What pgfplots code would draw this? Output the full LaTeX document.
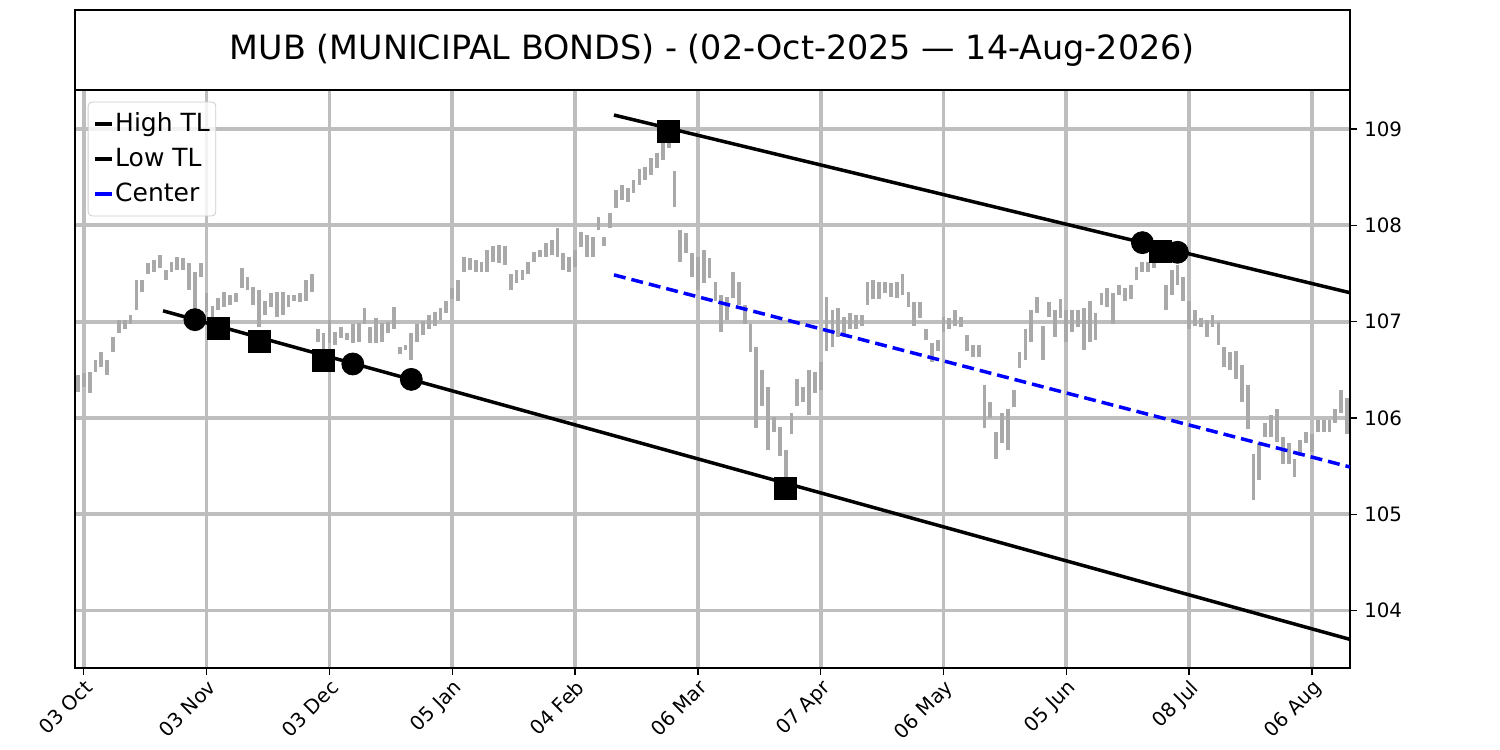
\documentclass[border=0pt]{standalone}
\usepackage{fontspec}
\setmainfont{DejaVu Sans}
\usepackage{pgfplots}
\pgfplotsset{compat=1.18}
\usepackage{pgfplotstable}
\definecolor{barc}{HTML}{A9A9A9}
\definecolor{gridc}{HTML}{BEBEBE}
\definecolor{legc}{HTML}{CCCCCC}

\pgfplotstableread{
i lo hi
0 106.27 106.45
1 106.32 106.47
2 106.26 106.48
3 106.48 106.60
4 106.53 106.68
5 106.45 106.60
6 106.68 106.84
7 106.88 107.02
8 106.92 107.02
9 106.97 107.07
10 107.12 107.43
11 107.31 107.43
12 107.49 107.61
13 107.52 107.64
14 107.56 107.69
15 107.43 107.54
16 107.52 107.62
17 107.54 107.67
18 107.54 107.66
19 107.33 107.61
20 107.04 107.51
21 107.46 107.61
22 107.10 107.30
23 107.05 107.16
24 107.12 107.25
25 107.15 107.31
26 107.17 107.28
27 107.20 107.30
28 107.35 107.56
29 107.33 107.46
30 107.17 107.36
31 106.94 107.33
32 107.07 107.21
33 107.15 107.30
34 107.05 107.31
35 107.07 107.31
36 107.15 107.28
37 107.21 107.28
38 107.20 107.30
39 107.21 107.43
40 107.31 107.49
41 106.79 106.92
42 106.71 106.88
43 106.78 107.02
44 106.76 106.89
45 106.83 106.94
46 106.81 106.88
47 106.78 106.97
48 106.79 106.99
49 106.97 107.14
50 106.78 106.94
51 106.78 107.04
52 106.79 106.99
53 106.88 107.00
54 106.92 107.15
55 106.66 106.74
56 106.71 106.76
57 106.60 106.88
58 106.79 106.97
59 106.86 107.01
60 106.92 107.07
61 106.95 107.10
62 107.02 107.14
63 107.09 107.21
64 107.23 107.35
65 107.21 107.43
66 107.51 107.67
67 107.54 107.66
68 107.52 107.64
69 107.51 107.62
70 107.51 107.74
71 107.62 107.78
72 107.61 107.80
73 107.59 107.78
74 107.33 107.49
75 107.40 107.54
76 107.43 107.54
77 107.49 107.62
78 107.62 107.72
79 107.67 107.74
80 107.67 107.82
81 107.69 107.85
82 107.67 107.97
83 107.54 107.71
84 107.52 107.67
85 107.57 107.74
86 107.77 107.93
87 107.67 107.90
88 107.67 107.88
89 107.95 108.09
90 107.78 107.88
91 107.97 108.13
92 108.18 108.37
93 108.26 108.42
94 108.24 108.39
95 108.34 108.47
96 108.42 108.58
97 108.47 108.61
98 108.52 108.70
99 108.60 108.75
100 108.68 108.86
101 108.80 109.01
102 108.19 108.56
103 107.62 107.95
104 107.71 107.92
105 107.46 107.71
106 107.33 107.67
107 107.40 107.74
108 107.45 107.66
109 107.21 107.41
110 106.89 107.28
111 107.02 107.26
112 107.25 107.51
113 107.17 107.41
114 106.97 107.17
115 106.68 106.97
116 105.90 106.74
117 106.12 106.50
118 105.67 106.32
119 105.85 106.01
120 105.60 105.91
121 105.31 105.67
122 105.83 106.05
123 106.12 106.40
124 106.16 106.32
125 106.03 106.50
126 106.26 106.48
127 106.29 106.58
128 106.69 107.26
129 106.74 107.12
130 106.84 107.14
131 106.84 107.05
132 106.92 107.09
133 106.92 107.07
134 106.95 107.07
135 107.17 107.41
136 107.23 107.43
137 107.23 107.41
138 107.30 107.41
139 107.26 107.40
140 107.25 107.41
141 107.28 107.49
142 107.15 107.31
143 106.95 107.20
144 107.04 107.20
145 106.81 106.92
146 106.58 106.78
147 106.69 106.81
148 106.89 107.05
149 106.92 107.04
150 106.95 107.12
151 106.94 107.05
152 106.69 106.86
153 106.63 106.76
154 106.63 106.76
155 105.90 106.34
156 106.00 106.17
157 105.57 105.85
158 105.74 106.05
159 105.67 106.09
160 106.11 106.29
161 106.52 106.68
162 106.60 106.92
163 106.79 107.12
164 107.09 107.26
165 106.60 106.95
166 107.05 107.20
167 106.84 107.12
168 107.04 107.23
169 106.79 107.12
170 106.89 107.12
171 106.94 107.12
172 106.71 107.14
173 106.79 107.21
174 106.81 107.09
175 107.17 107.30
176 107.15 107.35
177 106.97 107.30
178 107.28 107.38
179 107.21 107.35
180 107.23 107.38
181 107.43 107.57
182 107.52 107.62
183 107.51 107.62
184 107.56 107.64
185 107.61 107.69
186 107.12 107.38
187 107.28 107.54
188 107.38 107.59
189 107.21 107.46
190 106.92 107.21
191 106.95 107.12
192 106.94 107.04
193 106.84 107.02
194 106.94 107.07
195 106.76 107.00
196 106.53 106.74
197 106.50 106.68
198 106.40 106.69
199 106.17 106.55
200 105.88 106.34
201 105.15 105.62
202 105.36 105.74
203 105.80 105.95
204 105.80 106.03
205 105.75 106.09
206 105.52 105.80
207 105.52 105.74
208 105.39 105.57
209 105.60 105.77
210 105.74 105.85
211 105.65 105.83
212 105.85 105.98
213 105.85 105.98
214 105.85 105.98
215 105.95 106.09
216 106.05 106.29
217 105.83 106.21
}\bars

\begin{document}
\begin{tikzpicture}
\useasboundingbox (0,0) rectangle (750pt,375pt);
% title box
\begin{axis}[
  at={(37.5pt,330pt)}, anchor=south west,
  width=637.5pt, height=40pt, scale only axis,
  xmin=0, xmax=1, ymin=0, ymax=1,
  xtick=\empty, ytick=\empty,
  axis line style={line width=0.7pt},
]
\node[font=\fontsize{16.7}{20}\selectfont] at (axis cs:0.5,0.5) {MUB (MUNICIPAL BONDS) - (02-Oct-2025 — 14-Aug-2026)};
\end{axis}
% main chart
\begin{axis}[
  at={(37.5pt,41pt)}, anchor=south west,
  width=637.5pt, height=289pt, scale only axis,
  xmin=-0.5, xmax=217.5, ymin=103.403, ymax=109.405,
  xtick={1,22,43,64,85,106,127,148,169,190,211},
  xticklabels={03 Oct,03 Nov,03 Dec,05 Jan,04 Feb,06 Mar,07 Apr,06 May,05 Jun,08 Jul,06 Aug},
  ytick={104,105,106,107,108,109},
  xtick pos=bottom, ytick pos=right, yticklabel pos=right,
  tick align=outside, major tick length=3.6pt,
  every tick/.style={black, line width=0.7pt},
  grid=major, major grid style={gridc, line width=1.9pt},
  axis line style={line width=0.7pt},
  ticklabel style={font=\fontsize{9.9}{12}\selectfont},
  xticklabel style={rotate=45, anchor=north east, inner sep=1pt},
  /pgf/number format/assume math mode=true,
  legend style={at={(0.01,0.98)}, anchor=north west, draw=legc, rounded corners=2pt,
    fill=white, fill opacity=0.8, text opacity=1, font=\fontsize{12.5}{15}\selectfont,
    row sep=4.8pt, inner xsep=2.5pt, inner ysep=4.5pt,
    nodes={inner xsep=0.5pt, inner ysep=1pt}},
  legend cell align=left,
  legend image code/.code={\draw[#1, solid, line width=2pt] (0cm,0cm) -- (0.3cm,0cm);},
]
\addplot[forget plot, draw=none, mark=none,
  error bars/.cd, y dir=plus, y explicit, error mark=none,
  error bar style={line width=1.9pt, draw=barc}]
  table[x=i, y=lo, y error plus expr=\thisrow{hi}-\thisrow{lo}] {\bars};
\addplot[black, line width=1.75pt] coordinates {(91.65,109.145) (217.5,107.30)};
\addlegendentry{High TL}
\addplot[black, line width=1.75pt] coordinates {(14.55,107.112) (217.5,103.70)};
\addlegendentry{Low TL}
\addplot[blue, line width=1.75pt, dash pattern=on 6pt off 3pt] coordinates {(91.65,107.485) (217.5,105.49)};
\addlegendentry{Center}
\addplot[forget plot, only marks, mark=*, mark size=5.5pt, black] coordinates {
(20,107.02) (47,106.56) (57,106.40) (182,107.82) (188,107.72)};
\addplot[forget plot, only marks, mark=square*, mark size=5.5pt, black] coordinates {
(24,106.93) (31,106.79) (42,106.60) (101,108.97) (121,105.27) (185,107.73)};
\end{axis}
\end{tikzpicture}
\end{document}
